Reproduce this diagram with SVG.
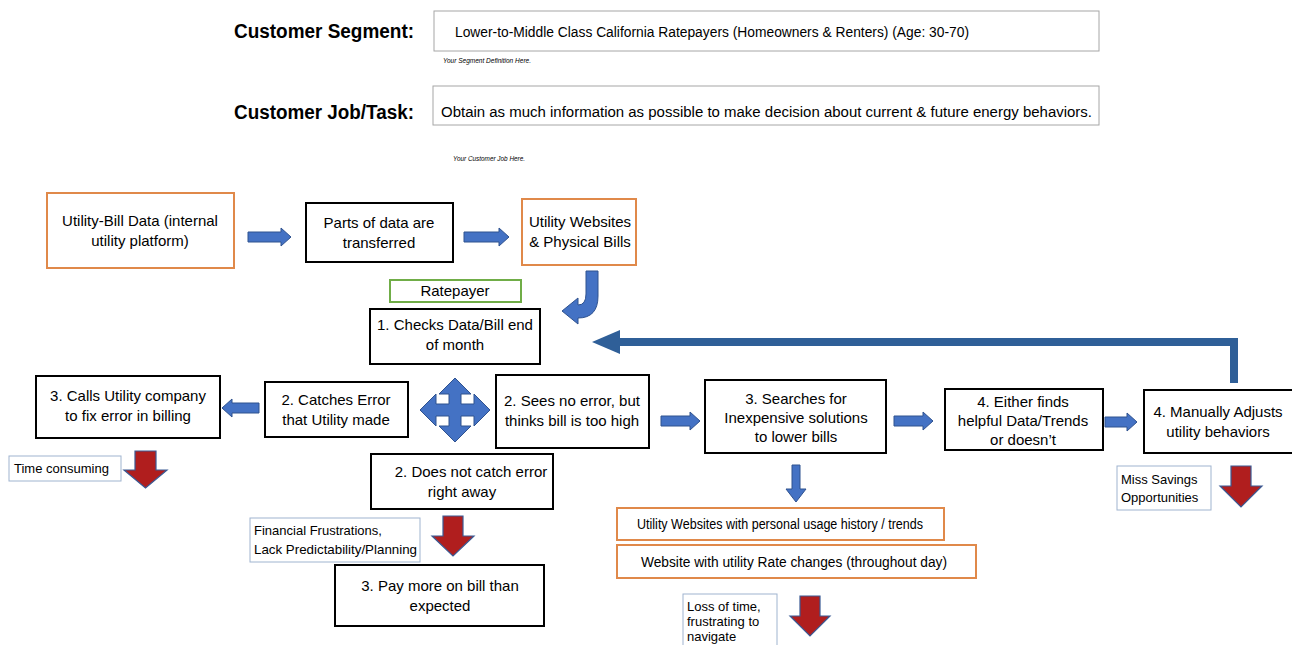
<svg xmlns="http://www.w3.org/2000/svg" width="1292" height="645" viewBox="0 0 1292 645">
<style>
text{font-family:"Liberation Sans",Arial,sans-serif;fill:#000}
.hd{font-weight:bold;font-size:20px}
.t{font-size:15px;text-anchor:middle}
.s{font-size:13px}
.tiny{font-size:6.5px;font-style:italic}
.blk{fill:#fff;stroke:#000;stroke-width:2}
.org{fill:#fff;stroke:#E0894A;stroke-width:2}
.grn{fill:#fff;stroke:#70AD47;stroke-width:2}
.thin{fill:#fff;stroke:#9FB4CF;stroke-width:1}
.hbox{fill:#fff;stroke:#A6A6A6;stroke-width:1}
.ba{fill:#4472C4;stroke:#2F528F;stroke-width:1}
.ra{fill:#B01E1E;stroke:#3A5A94;stroke-width:1.2}
</style>
<rect width="1292" height="645" fill="#fff"/>
<g id="header">
<text class="hd" x="234" y="38" textLength="180" lengthAdjust="spacingAndGlyphs">Customer Segment:</text>
<rect class="hbox" x="434" y="11" width="665" height="40"/>
<text x="455" y="37" font-size="14" textLength="514" lengthAdjust="spacingAndGlyphs">Lower-to-Middle Class California Ratepayers (Homeowners &amp; Renters) (Age: 30-70)</text>
<text class="tiny" x="443" y="63" textLength="88" lengthAdjust="spacingAndGlyphs">Your Segment Definition Here.</text>
<text class="hd" x="234" y="119" textLength="180" lengthAdjust="spacingAndGlyphs">Customer Job/Task:</text>
<rect class="hbox" x="433" y="86" width="666" height="39"/>
<text x="441" y="117" font-size="15.5" textLength="651" lengthAdjust="spacingAndGlyphs">Obtain as much information as possible to make decision about current &amp; future energy behaviors.</text>
<text class="tiny" x="453" y="161" textLength="72" lengthAdjust="spacingAndGlyphs">Your Customer Job Here.</text>
</g>
<g id="connectors">
<path class="ba" d="M248,232 H281 V228 L291,237 L281,246 V242 H248 Z"/>
<path class="ba" d="M464,232 H499 V228 L509,237 L499,246 V242 H464 Z"/>
<path class="ba" d="M586,271 H598 V296 Q598,318 578,318 V324 L562,311 L578,298 V305 Q586,305 586,294 Z"/>
<polyline points="1234,383 1234,342 616,342" fill="none" stroke="#2F5F98" stroke-width="8"/>
<polygon points="592,342 620,330 620,354" fill="#2F5F98"/>
<path class="ba" d="M259,403 H232 V399 L222,408 L232,417 V413 H259 Z"/>
<path class="ba" d="M455,378 L471,394 H461 V404 H474 V394 L490,410 L474,426 V416 H461 V426 H471 L455,442 L439,426 H449 V416 H436 V426 L420,410 L436,394 V404 H449 V394 H439 Z"/>
<path class="ba" d="M661,416 H690 V412 L700,421 L690,430 V426 H661 Z"/>
<path class="ba" d="M894,416 H923 V412 L933,421 L923,430 V426 H894 Z"/>
<path class="ba" d="M1105,417 H1127 V413 L1137,422 L1127,431 V427 H1105 Z"/>
<path class="ba" d="M792,465 H800 V489 H806 L796,502 L786,489 H792 Z"/>
<path class="ra" d="M135,451 H156 V470 H167 L145.5,488 L124,470 H135 Z"/>
<path class="ra" d="M443,516 H463 V536 H474 L453,556 L432,536 H443 Z"/>
<path class="ra" d="M1231,466 H1251 V486 H1262 L1241,507 L1220,486 H1231 Z"/>
<path class="ra" d="M800,596 H820 V616 H830 L810,636 L790,616 H800 Z"/>
</g>
<g id="n-utility-bill">
<rect class="org" x="47" y="193" width="187" height="75"/>
<text class="t" x="140" y="226">Utility-Bill Data (internal</text>
<text class="t" x="140" y="246">utility platform)</text>
</g>
<g id="n-parts">
<rect class="blk" x="306" y="203" width="147" height="59"/>
<text class="t" x="379" y="228">Parts of data are</text>
<text class="t" x="379" y="248">transferred</text>
</g>
<g id="n-websites">
<rect class="org" x="522" y="199" width="114" height="66"/>
<text class="t" x="580" y="227">Utility Websites</text>
<text class="t" x="580" y="247">&amp; Physical Bills</text>
</g>
<g id="n-ratepayer">
<rect class="grn" x="390" y="280" width="131" height="22"/>
<text class="t" x="455" y="296" font-size="14">Ratepayer</text>
</g>
<g id="n-checks">
<rect class="blk" x="370" y="309" width="170" height="55"/>
<text class="t" x="455" y="330">1. Checks Data/Bill end</text>
<text class="t" x="455" y="350">of month</text>
</g>
<g id="n-calls">
<rect class="blk" x="36" y="376" width="184" height="62"/>
<text class="t" x="128" y="401">3. Calls Utility company</text>
<text class="t" x="128" y="421">to fix error in billing</text>
</g>
<g id="n-catches">
<rect class="blk" x="265" y="382" width="143" height="55"/>
<text class="t" x="336" y="405">2. Catches Error</text>
<text class="t" x="336" y="425">that Utility made</text>
</g>
<g id="n-sees">
<rect class="blk" x="496" y="375" width="153" height="73"/>
<text class="t" x="572" y="406">2. Sees no error, but</text>
<text class="t" x="572" y="426">thinks bill is too high</text>
</g>
<g id="n-searches">
<rect class="blk" x="705" y="380" width="181" height="73"/>
<text class="t" x="796" y="404">3. Searches for</text>
<text class="t" x="796" y="423">Inexpensive solutions</text>
<text class="t" x="796" y="442">to lower bills</text>
</g>
<g id="n-either">
<rect class="blk" x="945" y="389" width="158" height="61"/>
<text class="t" x="1023" y="407">4. Either finds</text>
<text class="t" x="1023" y="426">helpful Data/Trends</text>
<text class="t" x="1023" y="445">or doesn’t</text>
</g>
<g id="n-manually">
<rect class="blk" x="1144" y="390" width="160" height="63"/>
<text class="t" x="1218" y="417">4. Manually Adjusts</text>
<text class="t" x="1218" y="437">utility behaviors</text>
</g>
<g id="n-notcatch">
<rect class="blk" x="371" y="454" width="182" height="55"/>
<text class="t" x="471" y="477">2. Does not catch error</text>
<text class="t" x="462" y="497">right away</text>
</g>
<g id="n-paymore">
<rect class="blk" x="335" y="565" width="209" height="61"/>
<text class="t" x="440" y="591">3. Pay more on bill than</text>
<text class="t" x="440" y="611">expected</text>
</g>
<g id="n-time">
<rect class="thin" x="9" y="456" width="112" height="25"/>
<text class="s" x="14" y="473" font-size="13.5">Time consuming</text>
</g>
<g id="n-financial">
<rect class="thin" x="250" y="518" width="170" height="44"/>
<text class="s" x="254" y="535">Financial Frustrations,</text>
<text class="s" x="254" y="554" textLength="163" lengthAdjust="spacingAndGlyphs">Lack Predictability/Planning</text>
</g>
<g id="n-usage">
<rect class="org" x="617" y="508" width="327" height="32"/>
<text x="637" y="529" font-size="14" textLength="286" lengthAdjust="spacingAndGlyphs">Utility Websites with personal usage history / trends</text>
</g>
<g id="n-rate">
<rect class="org" x="617" y="545" width="359" height="33"/>
<text x="641" y="567" font-size="14" textLength="306" lengthAdjust="spacingAndGlyphs">Website with utility Rate changes (throughout day)</text>
</g>
<g id="n-loss">
<rect class="thin" x="683" y="594" width="94" height="60"/>
<text class="s" x="687" y="611" font-size="13.5">Loss of time,</text>
<text class="s" x="687" y="626" font-size="13.5">frustrating to</text>
<text class="s" x="687" y="641" font-size="13.5">navigate</text>
</g>
<g id="n-miss">
<rect class="thin" x="1117" y="466" width="94" height="44"/>
<text class="s" x="1121" y="484">Miss Savings</text>
<text class="s" x="1121" y="502">Opportunities</text>
</g>
</svg>
